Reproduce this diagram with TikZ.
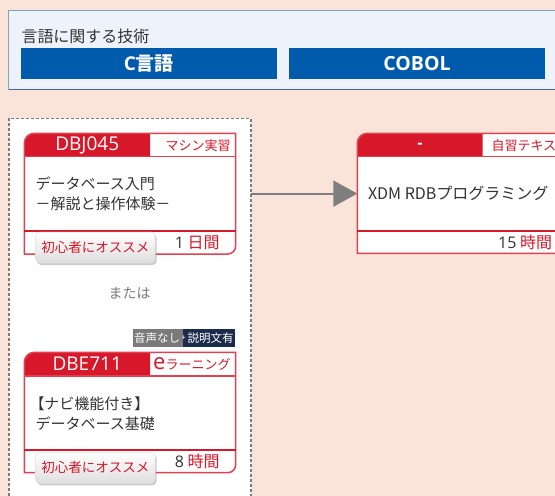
\documentclass[tikz,border=0pt]{standalone}
\usepackage{fontspec}
\setmainfont{Noto Sans CJK JP}
\newfontfamily\lat{Open Sans}
\usetikzlibrary{arrows.meta,shadows,calc}
\definecolor{bgpeach}{HTML}{FAE4DA}
\definecolor{topfill}{HTML}{EEF2FA}
\definecolor{topline}{HTML}{7BA3D3}
\definecolor{topbottom}{HTML}{3C6CA8}
\definecolor{barblue}{HTML}{005BAC}
\definecolor{cardred}{HTML}{D7182A}
\definecolor{cardline}{HTML}{E2414F}
\definecolor{txtgray}{HTML}{333333}
\definecolor{arrgray}{HTML}{7F7F7F}
\definecolor{dashgray}{HTML}{7C7C7C}
\definecolor{navytag}{HTML}{1C2B4B}
\definecolor{graytag}{HTML}{7A7A7A}
\definecolor{ortext}{HTML}{7A7A7A}
\newcommand{\mycard}[7]{%
  \fill[white] (#1,#7) -- (#1,#4+10) .. controls (#1,#4+4.48) and (#1+4.48,#4) .. (#1+10,#4) -- (#3,#4) -- (#3,#7-8) .. controls (#3,#7-3.58) and (#3-3.58,#7) .. (#3-8,#7) -- cycle;
  \fill[cardred] (#1,#5) -- (#1,#4+10) .. controls (#1,#4+4.48) and (#1+4.48,#4) .. (#1+10,#4) -- (#2,#4) -- (#2,#5) -- cycle;
  \draw[cardline, line width=1.5pt] (#1,#7) -- (#1,#4+10) .. controls (#1,#4+4.48) and (#1+4.48,#4) .. (#1+10,#4) -- (#3,#4) -- (#3,#7-8) .. controls (#3,#7-3.58) and (#3-3.58,#7) .. (#3-8,#7) -- cycle;
  \draw[cardline, line width=1.5pt] (#1,#5) -- (#3,#5);
  \draw[cardred, line width=2pt] (#1,#6) -- (#3,#6);
}
\tikzset{
  bar/.style={fill=barblue, text=white, minimum width=255.7pt, minimum height=30.7pt, font=\fontsize{19}{21}\selectfont\bfseries},
  code/.style={text=white, font=\lat\fontsize{19}{21}\selectfont},
  kind/.style={text=cardred, anchor=east, font=\fontsize{13}{15}\selectfont},
  body/.style={text=txtgray, anchor=base west, font=\fontsize{15}{20}\selectfont},
  dur/.style={anchor=east, text=txtgray, font=\fontsize{16}{18}\selectfont},
  badge/.style={rounded corners=4pt, top color=white, bottom color=black!13, draw=black!12, line width=0.5pt,
    drop shadow={shadow xshift=1.5pt, shadow yshift=-2pt, fill=black!40, opacity=0.5},
    minimum width=119.3pt, minimum height=31pt, text=cardred, font=\fontsize{13.5}{16}\selectfont},
  mtag/.style={text=white, minimum height=18pt, font=\fontsize{11.5}{14}\selectfont},
}
\begin{document}
\begin{tikzpicture}[x=1pt,y=-1pt, every node/.append style={inner sep=0pt, outer sep=0pt}]
\useasboundingbox (0,0) rectangle (555,496);
\clip (0,0) rectangle (555,496);
\fill[bgpeach] (0,0) rectangle (555,496);

% top box
\node[fill=topfill, draw=topline, line width=1.2pt, minimum width=566.3pt, minimum height=78.6pt] (topbox) at (291.85,50) {};
\draw[topbottom, line width=1.2pt] (topbox.south west) -- (topbox.south east);
\node[anchor=base west, text=txtgray, font=\fontsize{16}{18}\selectfont] (title) at (21.5,42.3) {言語に関する技術};
\node[bar] (cbar) at (148.85,63.65) {{\lat C}言語};
\node[bar, minimum width=256pt, font=\lat\fontsize{19.5}{21}\selectfont\bfseries] (cobol) at (417,63.65) {COBOL};

% dashed container
\node[fill=white, draw=dashgray, line width=1.6pt, dash pattern=on 3pt off 2pt, minimum width=241.7pt, minimum height=401.7pt] (cont) at (129.85,319.15) {};

% card 1
\mycard{24.3}{150}{235.7}{133.3}{156.7}{231}{254}
\node[code] (c1code) at (87.2,145.3) {DBJ045};
\node[kind] (c1kind) at (230.5,145.3) {マシン実習};
\node[body] (c1body) at (35.5,189.8) {\vtop{\baselineskip=20pt\hbox{データベース入門}\hbox{－解説と操作体験－}}};
\node[dur] (c1dur) at (219.5,242.5) {{\lat 1} \textcolor{cardred}{日間}};
\node[badge] (c1badge) at (95.35,247.5) {初心者にオススメ};

\node[text=ortext, font=\fontsize{14}{16}\selectfont] (or) at (129.5,293) {または};

% card 2 media tag
\node[mtag, fill=graytag, minimum width=50pt] (snd) at (158,338) {};
\node[mtag, fill=navytag, minimum width=52pt] (expl) at (209,338) {};
\node[text=white, font=\fontsize{11.5}{14}\selectfont] (sndt) at (157.2,338) {音声なし};
\node[text=white, font=\fontsize{11.5}{14}\selectfont] (explt) at (210.5,338) {説明文有};
\node[text=white, font=\lat\fontsize{8}{9}\selectfont] (plus) at (183.6,338.5) {+};

% card 2
\mycard{24.3}{150}{235.7}{352.3}{376}{450}{472.7}
\node[code] (c2code) at (87.2,364.2) {DBE711};
\node[kind] (c2kind) at (230.5,364.2) {{\lat\fontsize{22}{22}\selectfont e}ラーニング};
\node[body] (c2body) at (35.5,409) {\vtop{\baselineskip=20pt\hbox{\kern-6pt【ナビ機能付き】}\hbox{データベース基礎}}};
\node[dur] (c2dur) at (219.5,461.4) {{\lat 8} \textcolor{cardred}{時間}};
\node[badge] (c2badge) at (95.35,467.8) {初心者にオススメ};

% right card
\mycard{357.3}{482.5}{640}{133.3}{156.7}{230.7}{253.3}
\coordinate (rcw) at (357.3,193.6);
\node[code, font=\lat\bfseries\fontsize{16}{18}\selectfont] (c3code) at (420,145.5) {-};
\node[text=cardred, anchor=west, font=\fontsize{13}{15}\selectfont] (c3kind) at (491.5,145.3) {自習テキスト};
\node[text=txtgray, anchor=west, font=\fontsize{16}{18}\selectfont] (c3body) at (368,193.5) {XDM RDBプログラミング};
\node[dur] (c3dur) at (552,242) {{\lat 15} \textcolor{cardred}{時間}};

% connector
\draw[arrgray, line width=2pt, -{Triangle[length=24pt,width=26pt]}] (rcw -| cont.east) -- (rcw);
\end{tikzpicture}
\end{document}
